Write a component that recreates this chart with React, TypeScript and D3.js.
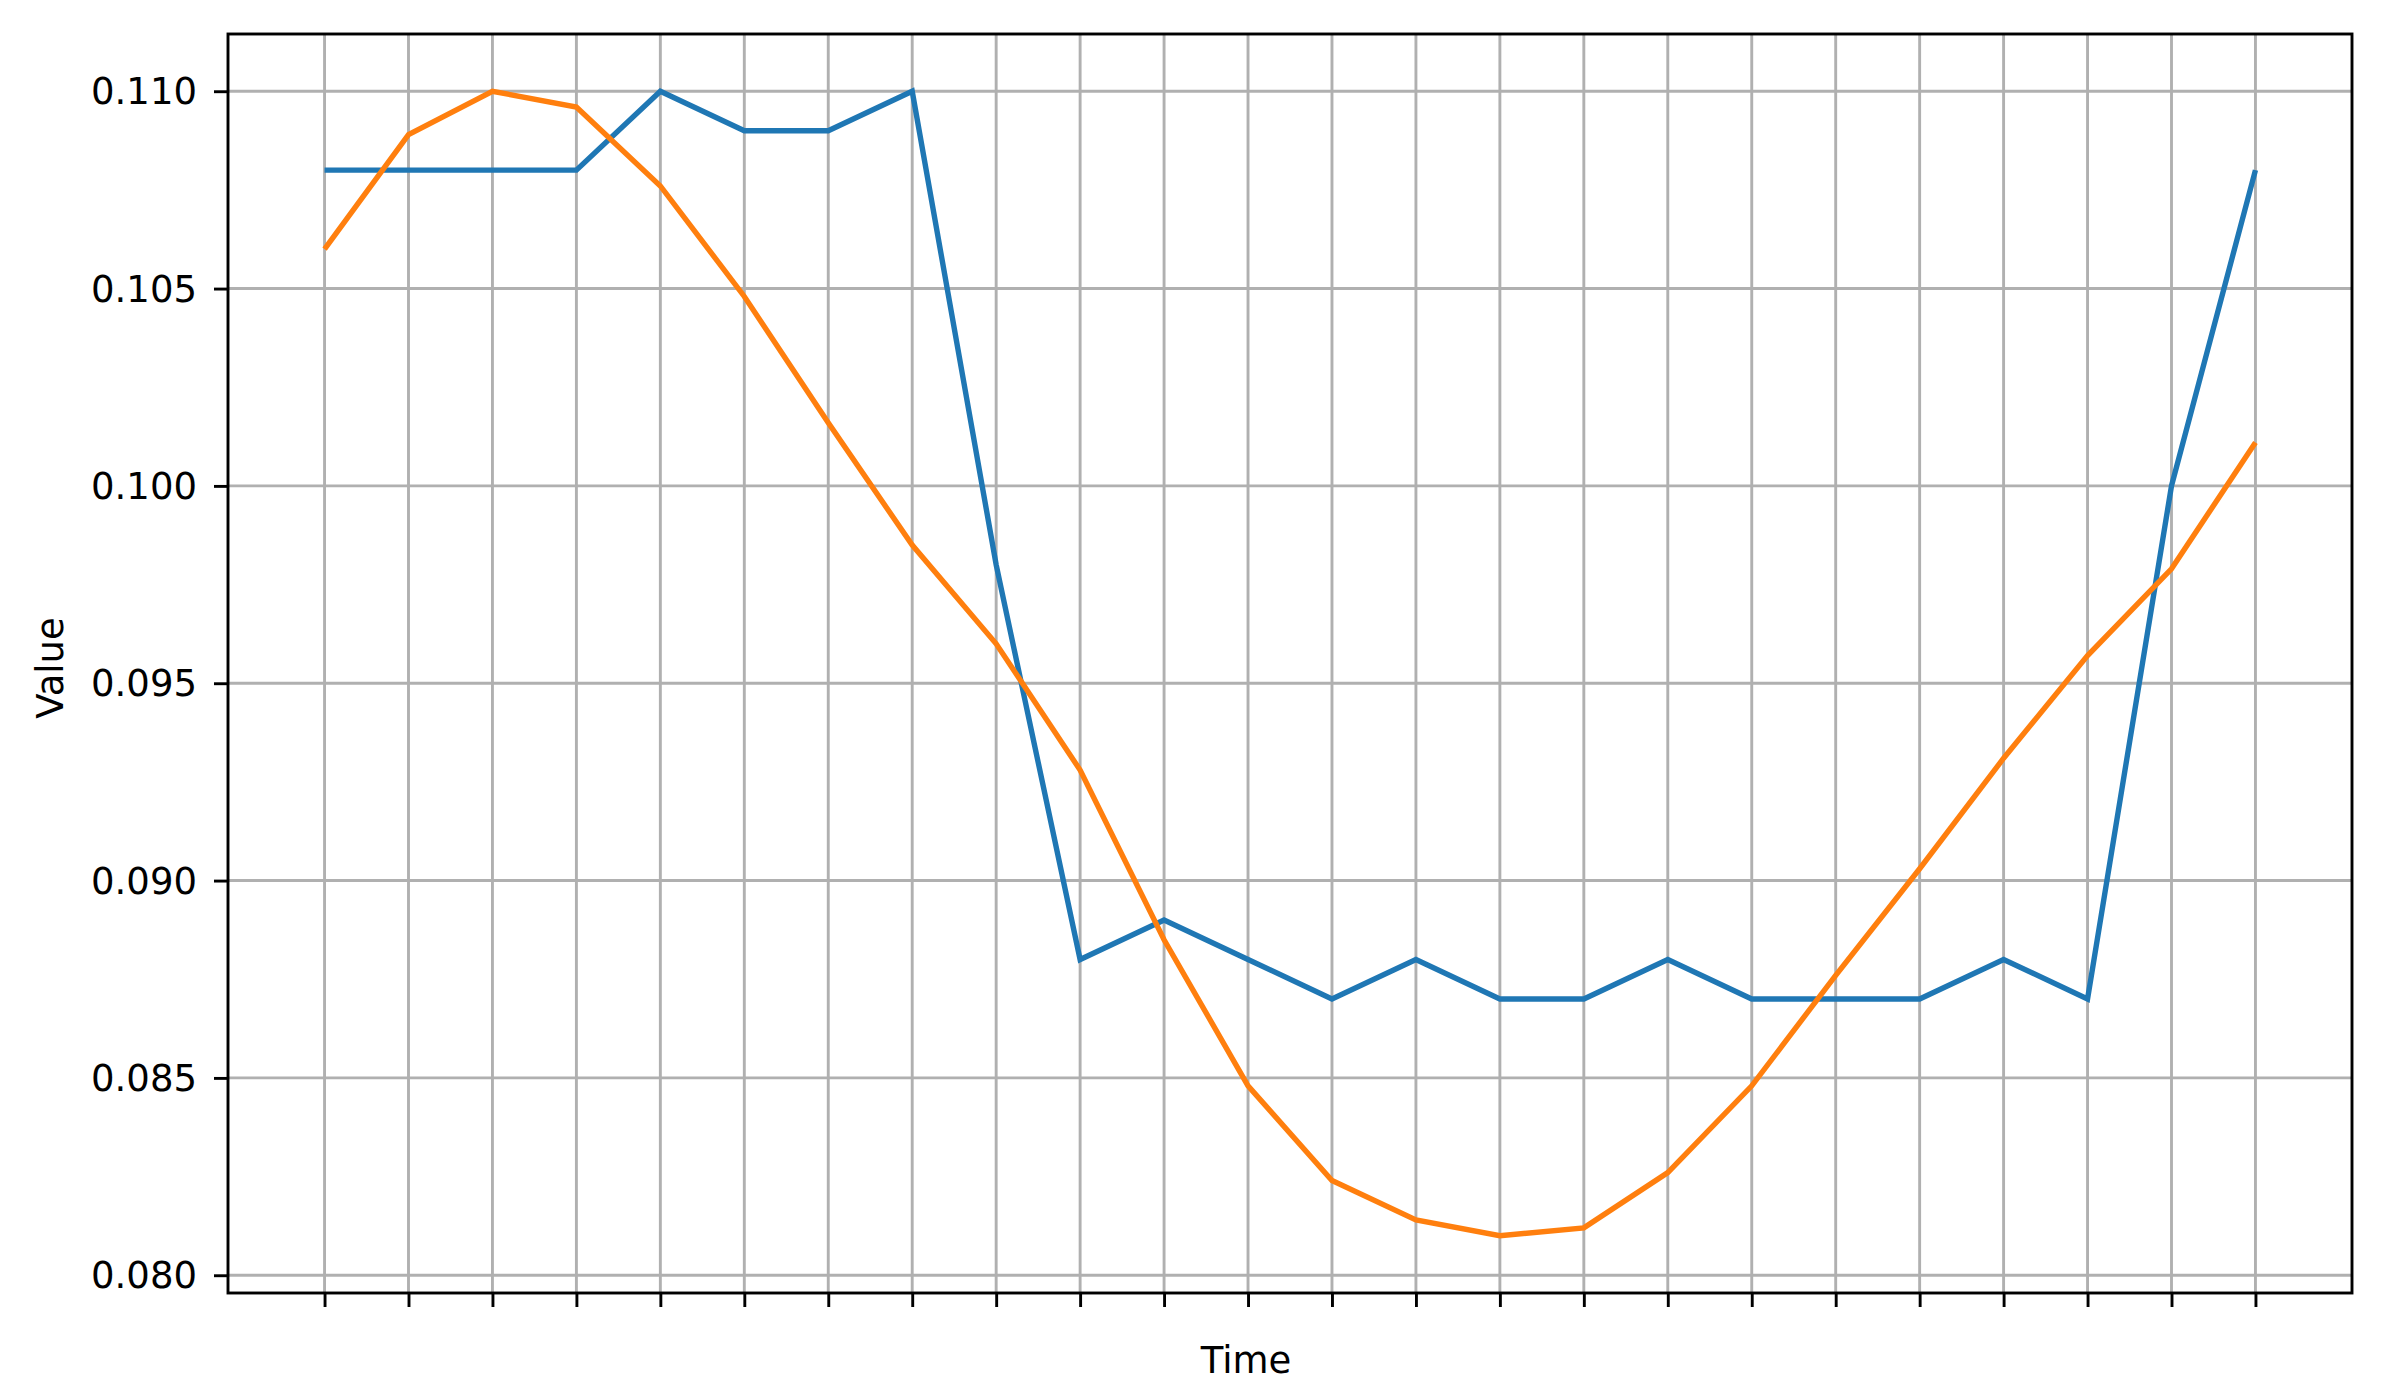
import React, { useEffect, useRef } from 'react';
import * as d3 from 'd3';

// time steps along the x axis (ticks have no labels)
const timeSteps = [0, 1, 2, 3, 4, 5, 6, 7, 8, 9, 10, 11, 12, 13, 14, 15, 16, 17, 18, 19, 20, 21, 22, 23];

// blue series
const seriesA = [
  0.108, 0.108, 0.108, 0.108, 0.110, 0.109, 0.109, 0.110, 0.098, 0.088, 0.089, 0.088,
  0.087, 0.088, 0.087, 0.087, 0.088, 0.087, 0.087, 0.087, 0.088, 0.087, 0.100, 0.108,
];

// orange series
const seriesB = [
  0.1060, 0.1089, 0.1100, 0.1096, 0.1076, 0.1048, 0.1016, 0.0985, 0.0960, 0.0928, 0.0885, 0.0848,
  0.0824, 0.0814, 0.0810, 0.0812, 0.0826, 0.0848, 0.0876, 0.0903, 0.0931, 0.0957, 0.0979, 0.1011,
];

const yTicks = [0.080, 0.085, 0.090, 0.095, 0.100, 0.105, 0.110];

const colors = ['#1f77b4', '#ff7f0e'];

const App = () => {
  const ref = useRef<SVGSVGElement | null>(null);

  useEffect(() => {
    const width = 2389;
    const height = 1400;
    const left = 228, right = 2352, top = 34, bottom = 1293;
    const font = '"DejaVu Sans", sans-serif';
    const fontSize = 37;

    const svg = d3.select(ref.current);
    svg.selectAll('*').remove();
    svg.attr('width', width).attr('height', height);
    svg.append('rect').attr('width', width).attr('height', height).attr('fill', '#fff');

    // matplotlib style 5% margins
    const xPad = (d3.max(timeSteps)! - d3.min(timeSteps)!) * 0.05;
    const all = seriesA.concat(seriesB);
    const yMin = d3.min(all)!, yMax = d3.max(all)!;
    const yPad = (yMax - yMin) * 0.05;

    const x = d3.scaleLinear()
      .domain([d3.min(timeSteps)! - xPad, d3.max(timeSteps)! + xPad])
      .range([left, right]);
    const y = d3.scaleLinear()
      .domain([yMin - yPad, yMax + yPad])
      .range([bottom, top]);

    // grid
    const grid = svg.append('g').attr('stroke', '#b0b0b0').attr('stroke-width', 2.9);
    grid.selectAll('line.v').data(timeSteps).enter().append('line')
      .attr('x1', d => x(d)).attr('x2', d => x(d))
      .attr('y1', top).attr('y2', bottom);
    grid.selectAll('line.h').data(yTicks).enter().append('line')
      .attr('x1', left).attr('x2', right)
      .attr('y1', d => y(d)).attr('y2', d => y(d));

    // lines
    const line = d3.line<number>()
      .x((_, i) => x(timeSteps[i]))
      .y(d => y(d));
    [seriesA, seriesB].forEach((s, i) => {
      svg.append('path')
        .datum(s)
        .attr('d', line)
        .attr('fill', 'none')
        .attr('stroke', colors[i])
        .attr('stroke-width', 5.4)
        .attr('stroke-linejoin', 'miter')
        .attr('stroke-linecap', 'butt');
    });

    // frame
    svg.append('rect')
      .attr('x', left).attr('y', top)
      .attr('width', right - left).attr('height', bottom - top)
      .attr('fill', 'none').attr('stroke', '#000').attr('stroke-width', 2.9);

    // x axis, ticks without labels
    const xAxis = d3.axisBottom(x).tickValues(timeSteps).tickFormat(() => '').tickSize(14).tickSizeOuter(0);
    const gx = svg.append('g').attr('transform', `translate(0,${bottom})`).call(xAxis);
    gx.select('.domain').remove();
    gx.selectAll('line').attr('stroke', '#000').attr('stroke-width', 2.9);

    // y axis
    const yAxis = d3.axisLeft(y).tickValues(yTicks).tickFormat(d3.format('.3f')).tickSize(14).tickPadding(17).tickSizeOuter(0);
    const gy = svg.append('g').attr('transform', `translate(${left},0)`).call(yAxis);
    gy.select('.domain').remove();
    gy.selectAll('line').attr('stroke', '#000').attr('stroke-width', 2.9);
    gy.selectAll('text')
      .attr('font-family', font)
      .attr('font-size', fontSize)
      .attr('fill', '#000')
      .attr('dy', '0.34em');

    // axis labels
    svg.append('text')
      .attr('x', 1246).attr('y', 1373)
      .attr('text-anchor', 'middle')
      .attr('font-family', font).attr('font-size', fontSize)
      .text('Time');
    svg.append('text')
      .attr('transform', 'translate(63,668) rotate(-90)')
      .attr('text-anchor', 'middle')
      .attr('font-family', font).attr('font-size', fontSize)
      .text('Value');
  }, []);

  return (
    <div style={{ position: 'absolute', left: 0, top: 0 }}>
      <svg ref={ref}></svg>
    </div>
  );
};

export default App;
